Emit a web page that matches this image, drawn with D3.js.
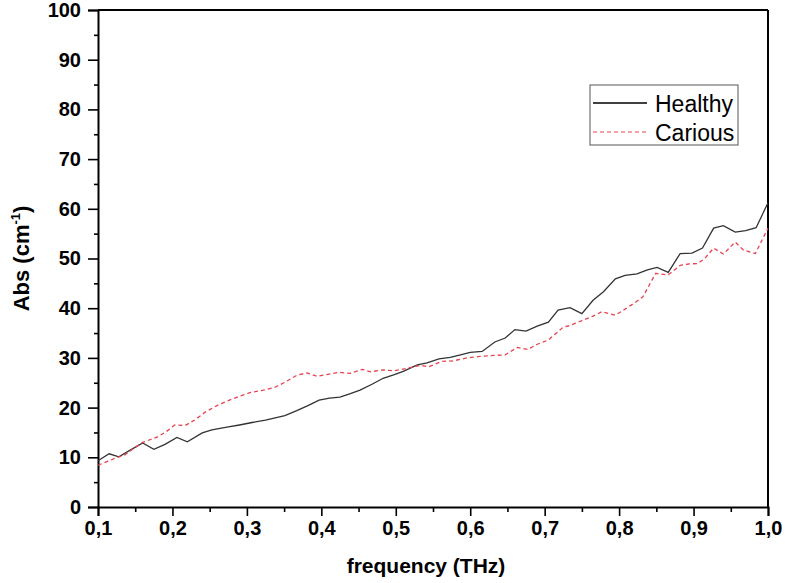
<!DOCTYPE html>
<html lang="en">
  <head>
    <meta charset="utf-8" />
    <script src="https://d3js.org/d3.v7.min.js"></script>
    <style>
      body {
        margin: 0;
        background-color: #fff;
      }
      svg text {
        font-family: "Liberation Sans", Arial, sans-serif;
      }
    </style>
  </head>
  <body>
    <div id="chart"></div>

    <script>
      const width = 785;
      const height = 583;
      const margin = { top: 10, right: 17, bottom: 76, left: 98 };

      // valeurs
      const healthyFreq = [0.1, 0.115, 0.128, 0.145, 0.16, 0.175, 0.19, 0.206, 0.22, 0.24, 0.253,
        0.275, 0.29, 0.307, 0.325, 0.351, 0.367, 0.382, 0.397, 0.411, 0.425, 0.439, 0.452, 0.468,
        0.483, 0.497, 0.51, 0.529, 0.542, 0.558, 0.573, 0.587, 0.6, 0.616, 0.633, 0.647, 0.66,
        0.675, 0.69, 0.705, 0.718, 0.734, 0.75, 0.765, 0.779, 0.795, 0.808, 0.824, 0.838, 0.851,
        0.866, 0.882, 0.898, 0.912, 0.927, 0.94, 0.956, 0.97, 0.984, 1.0];
      const healthyAbs = [9.3, 10.7, 10.1, 11.6, 12.9, 11.6, 12.6, 14.0, 13.1, 14.9, 15.5,
        16.1, 16.5, 17.0, 17.5, 18.4, 19.4, 20.4, 21.5, 21.9, 22.1, 22.8, 23.5, 24.7,
        25.9, 26.6, 27.3, 28.6, 29.0, 29.8, 30.1, 30.6, 31.1, 31.3, 33.2, 34.0, 35.7,
        35.4, 36.4, 37.2, 39.6, 40.1, 38.9, 41.6, 43.3, 45.9, 46.6, 46.9, 47.7, 48.2,
        47.2, 51.0, 51.1, 52.1, 56.1, 56.6, 55.3, 55.6, 56.2, 61.2];

      const cariousFreq = [0.1, 0.123, 0.136, 0.148, 0.16, 0.18, 0.192, 0.203, 0.217, 0.23,
        0.244, 0.261, 0.275, 0.29, 0.304, 0.322, 0.338, 0.351, 0.367, 0.381, 0.394, 0.409,
        0.423, 0.439, 0.455, 0.466, 0.483, 0.497, 0.515, 0.533, 0.544, 0.562, 0.577, 0.596,
        0.613, 0.631, 0.647, 0.663, 0.677, 0.691, 0.705, 0.725, 0.734, 0.75, 0.765, 0.777,
        0.795, 0.811, 0.822, 0.832, 0.849, 0.866, 0.882, 0.894, 0.906, 0.915, 0.927, 0.94,
        0.956, 0.967, 0.983, 1.0];
      const cariousAbs = [8.4, 9.8, 10.5, 11.8, 13.0, 14.1, 15.2, 16.5, 16.4, 17.5,
        19.1, 20.5, 21.4, 22.3, 23.0, 23.5, 24.1, 25.1, 26.5, 27.0, 26.3, 26.7,
        27.1, 26.9, 27.7, 27.2, 27.6, 27.4, 27.9, 28.5, 28.2, 29.3, 29.4, 30.0,
        30.3, 30.5, 30.6, 32.1, 31.7, 32.8, 33.6, 36.2, 36.5, 37.5, 38.4, 39.3,
        38.6, 40.1, 41.2, 42.3, 47.0, 46.7, 48.6, 48.9, 49.0, 50.0, 52.1, 50.9,
        53.3, 51.7, 51.0, 56.1];

      const xTicks = [0.1, 0.2, 0.3, 0.4, 0.5, 0.6, 0.7, 0.8, 0.9, 1.0];
      const xMinorTicks = [0.15, 0.25, 0.35, 0.45, 0.55, 0.65, 0.75, 0.85, 0.95];
      const yTicks = [0, 10, 20, 30, 40, 50, 60, 70, 80, 90, 100];
      const yMinorTicks = [5, 15, 25, 35, 45, 55, 65, 75, 85, 95];

      const series = [
        { name: "Healthy", freq: healthyFreq, abs: healthyAbs, color: "#333", dash: null },
        { name: "Carious", freq: cariousFreq, abs: cariousAbs, color: "#e8434f", dash: "4,3" }
      ];

      const svg = d3
        .select("#chart")
        .append("svg")
        .attr("width", width)
        .attr("height", height);

      const x = d3
        .scaleLinear()
        .domain([0.1, 1.0])
        .range([margin.left, width - margin.right]);

      const y = d3
        .scaleLinear()
        .domain([0, 100])
        .range([height - margin.bottom, margin.top]);

      const fmt = (d) => d.toFixed(1).replace(".", ",");

      // axes
      const xAxis = svg
        .append("g")
        .attr("transform", `translate(0,${height - margin.bottom})`)
        .call(d3.axisBottom(x).tickValues(xTicks).tickFormat(fmt).tickSize(9).tickPadding(5));

      svg
        .append("g")
        .attr("transform", `translate(0,${height - margin.bottom})`)
        .call(d3.axisBottom(x).tickValues(xMinorTicks).tickFormat("").tickSize(5))
        .call((g) => g.select(".domain").remove());

      const yAxis = svg
        .append("g")
        .attr("transform", `translate(${margin.left},0)`)
        .call(d3.axisLeft(y).tickValues(yTicks).tickSize(10).tickPadding(7));

      svg
        .append("g")
        .attr("transform", `translate(${margin.left},0)`)
        .call(d3.axisLeft(y).tickValues(yMinorTicks).tickFormat("").tickSize(4))
        .call((g) => g.select(".domain").remove());

      svg
        .selectAll("g .domain")
        .attr("stroke-width", 2);
      svg.selectAll("g .tick line").attr("stroke-width", 1.6).attr("stroke", "#000");

      xAxis
        .selectAll("text")
        .attr("font-size", 20)
        .attr("font-weight", "bold")
        .attr("fill", "#000");
      yAxis
        .selectAll("text")
        .attr("font-size", 20)
        .attr("font-weight", "bold")
        .attr("fill", "#000");

      // cadre haut et droit
      svg
        .append("line")
        .attr("x1", margin.left)
        .attr("x2", width - margin.right)
        .attr("y1", margin.top)
        .attr("y2", margin.top)
        .attr("stroke", "#000")
        .attr("stroke-width", 2);
      svg
        .append("line")
        .attr("x1", width - margin.right)
        .attr("x2", width - margin.right)
        .attr("y1", margin.top)
        .attr("y2", height - margin.bottom)
        .attr("stroke", "#000")
        .attr("stroke-width", 2);

      // courbes
      const line = d3
        .line()
        .x((d) => x(d[0]))
        .y((d) => y(d[1]));

      series.forEach((s) => {
        svg
          .append("path")
          .datum(d3.zip(s.freq, s.abs))
          .attr("fill", "none")
          .attr("stroke", s.color)
          .attr("stroke-width", 1.3)
          .attr("stroke-dasharray", s.dash)
          .attr("d", line);
      });

      // légende
      const legend = svg.append("g").attr("transform", "translate(590,85)");
      legend
        .append("rect")
        .attr("width", 148)
        .attr("height", 60)
        .attr("fill", "#fff")
        .attr("stroke", "#555")
        .attr("stroke-width", 1);

      series.forEach((s, i) => {
        const ly = 18 + i * 29;
        legend
          .append("line")
          .attr("x1", 3)
          .attr("x2", 57)
          .attr("y1", ly)
          .attr("y2", ly)
          .attr("stroke", i === 0 ? "#000" : s.color)
          .attr("stroke-width", i === 0 ? 1.5 : 1)
          .attr("stroke-dasharray", s.dash);
        legend
          .append("text")
          .attr("x", 65)
          .attr("y", ly + 9)
          .attr("font-size", 23)
          .attr("fill", "#000")
          .text(s.name);
      });

      // titres des axes
      svg
        .append("text")
        .attr("x", 426)
        .attr("y", 573)
        .attr("text-anchor", "middle")
        .attr("font-size", 21)
        .attr("font-weight", "bold")
        .text("frequency (THz)");

      const yTitle = svg
        .append("text")
        .attr("transform", `translate(29,${(margin.top + height - margin.bottom) / 2}) rotate(-90)`)
        .attr("text-anchor", "middle")
        .attr("font-size", 22)
        .attr("font-weight", "bold");
      yTitle.append("tspan").text("Abs (cm");
      yTitle.append("tspan").attr("font-size", 13).attr("dy", -9).text("-1");
      yTitle.append("tspan").attr("dy", 9).text(")");
    </script>
  </body>
</html>
